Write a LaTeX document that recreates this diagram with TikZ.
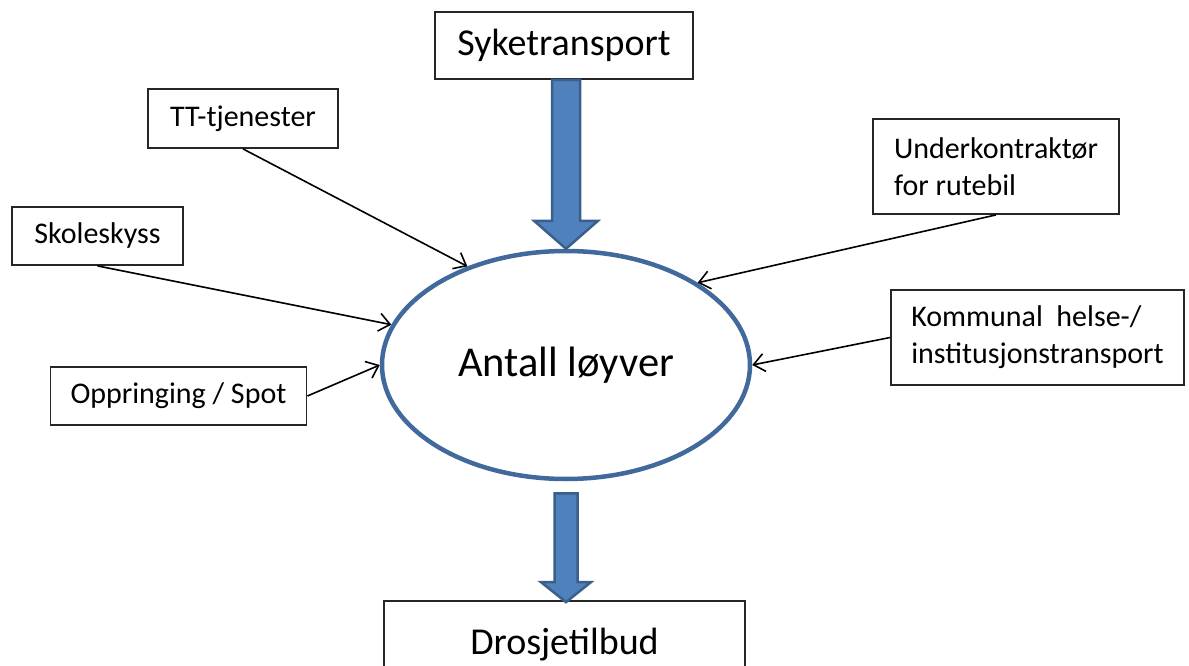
\documentclass[tikz,border=0pt]{standalone}
\usepackage{fontspec}
\setmainfont{Carlito}
\usetikzlibrary{arrows.meta,shapes.geometric,calc}
\definecolor{arrowfill}{HTML}{4F81BD}
\definecolor{arrowdraw}{HTML}{3A5F8B}
\definecolor{ellblue}{HTML}{41699B}
\begin{document}
\begin{tikzpicture}[x=1pt,y=-1pt,
  box/.style={draw=black!85, line width=1.8pt, rectangle, inner sep=0pt, align=center},
  smalltxt/.style={font=\fontsize{30}{37}\selectfont},
  bigtxt/.style={font=\fontsize{38}{44}\selectfont},
  conn/.style={draw=black, line width=1.6pt, -{Straight Barb[length=11pt,width=18pt,line width=1.6pt]}},
  bigarrow/.style={fill=arrowfill, draw=arrowdraw, line width=2.5pt, line join=miter},
]
\clip (0,0) rectangle (1189,666);
\fill[white] (0,0) rectangle (1189,666);

% nodes
\node[box,bigtxt, minimum width=258pt, minimum height=67pt] (sy) at (564,45.5) {Syketransport};
\node[box,smalltxt, minimum width=190pt, minimum height=59pt] (tt) at (243,118.5) {TT-tjenester};
\node[box,smalltxt, minimum width=171pt, minimum height=58pt] (sk) at (97.5,236) {Skoleskyss};
\node[box,smalltxt, minimum width=256pt, minimum height=58pt] (op) at (178.5,396) {Oppringing / Spot};
\node[box,smalltxt, align=left, minimum width=246pt, minimum height=95pt] (uk) at (996,166.5) {Underkontraktør\\for rutebil};
\node[box,smalltxt, align=left, minimum width=293pt, minimum height=95pt] (km) at (1037.5,337.5) {Kommunal\ \ helse-/\\institusjonstransport};
\node[box,bigtxt, minimum width=361pt, minimum height=90pt] (dr) at (564.5,646) {\raisebox{10pt}{Drosjetilbud}};

\node[ellipse, draw=ellblue, fill=white, line width=4.5pt, minimum width=368pt, minimum height=228pt, inner sep=0pt,
      font=\fontsize{42.5}{48}\selectfont] (ell) at (566,365) {\raisebox{-4pt}{Antall løyver}};

% big arrows
\draw[bigarrow] let \p1=(sy.south), \p2=(ell.north) in
  (\x2-14pt,\y1) -- (\x2-14pt,\y2+28pt) -- (\x2-32pt,\y2+28pt) -- (\x2,\y2)
  -- (\x2+32pt,\y2+28pt) -- (\x2+14pt,\y2+28pt) -- (\x2+14pt,\y1) -- cycle;
\draw[bigarrow] let \p1=(ell.south), \p2=(dr.north) in
  (\x1-11.5pt,\y1-12pt) -- (\x1-11.5pt,\y2+18pt) -- (\x1-25pt,\y2+18pt) -- (\x1,\y2-2pt)
  -- (\x1+25pt,\y2+18pt) -- (\x1+11.5pt,\y2+18pt) -- (\x1+11.5pt,\y1-12pt) -- cycle;

% connectors
\draw[conn] (tt.south) -- (ell.135.3);
\draw[conn] (sk.south) -- (ell.167.3);
\draw[conn] (op.east) -- (ell.180);
\draw[conn] (uk.south) -- (ell.32.2);
\draw[conn] (km.west) -- (ell.-0.9);
\end{tikzpicture}
\end{document}
